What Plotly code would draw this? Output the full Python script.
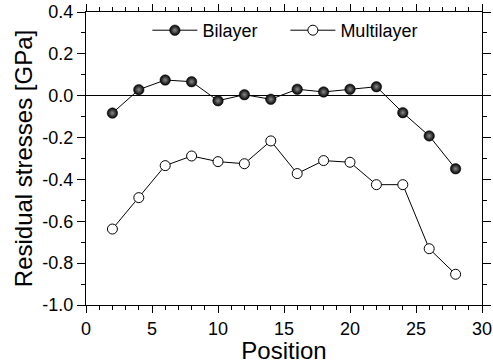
import plotly.graph_objects as go

positions = [2, 4, 6, 8, 10, 12, 14, 16, 18, 20, 22, 24, 26, 28]
bilayer = [-0.083, 0.029, 0.075, 0.067, -0.024, 0.005, -0.017, 0.031, 0.018, 0.031, 0.043, -0.081, -0.192, -0.349]
multilayer = [-0.637, -0.487, -0.334, -0.288, -0.315, -0.325, -0.216, -0.372, -0.31, -0.318, -0.425, -0.425, -0.731, -0.853]

y_tickvals = [0.4, 0.2, 0.0, -0.2, -0.4, -0.6, -0.8, -1.0]
y_ticktext = ["0.4", "0.2", "0.0", "-0.2", "-0.4", "-0.6", "-0.8", "-1.0"]
x_tickvals = [0, 5, 10, 15, 20, 25, 30]

FONT = "Liberation Sans, Arial, sans-serif"

fig = go.Figure()
fig.add_trace(go.Scatter(
    x=positions, y=bilayer, name="Bilayer", mode="lines+markers",
    line=dict(color="black", width=1),
    marker=dict(symbol="circle", size=10.5, color="black",
                gradient=dict(type="radial", color="#8a8a8a"),
                line=dict(color="black", width=0.5)),
))
fig.add_trace(go.Scatter(
    x=positions, y=multilayer, name="Multilayer", mode="lines+markers",
    line=dict(color="black", width=1),
    marker=dict(symbol="circle", size=10, color="white",
                line=dict(color="black", width=1)),
))

axis_common = dict(
    showline=True, linecolor="black", linewidth=1, mirror="allticks",
    ticks="outside", tickcolor="black", tickwidth=1, automargin=False,
    showgrid=False, tickfont=dict(family=FONT, size=18, color="black"),
)

fig.update_xaxes(
    range=[0, 30], tickvals=x_tickvals, ticklen=7,
    minor=dict(ticks="outside", dtick=1, ticklen=4, tickcolor="black", showgrid=False),
    title=dict(text="Position", font=dict(family=FONT, size=24, color="black"), standoff=0),
    zeroline=False, **axis_common,
)
fig.update_yaxes(
    range=[-1.0, 0.4], tickvals=y_tickvals, ticktext=y_ticktext, ticklen=8,
    minor=dict(ticks="outside", dtick=0.1, ticklen=4, tickcolor="black", showgrid=False),
    title=dict(text="Residual stresses [GPa]", font=dict(family=FONT, size=24, color="black"), standoff=2),
    zeroline=True, zerolinecolor="black", zerolinewidth=1,
    **axis_common,
)

fig.update_layout(
    width=493, height=364,
    margin=dict(l=86, r=11, t=12, b=59),
    paper_bgcolor="white", plot_bgcolor="white",
    showlegend=True,
    legend=dict(
        orientation="h", x=0.155, y=1.0, xanchor="left", yanchor="top",
        bgcolor="rgba(0,0,0,0)", font=dict(family=FONT, size=18, color="black"),
        entrywidth=78, entrywidthmode="pixels", itemwidth=45,
    ),
)

fig.write_html("out.html")
